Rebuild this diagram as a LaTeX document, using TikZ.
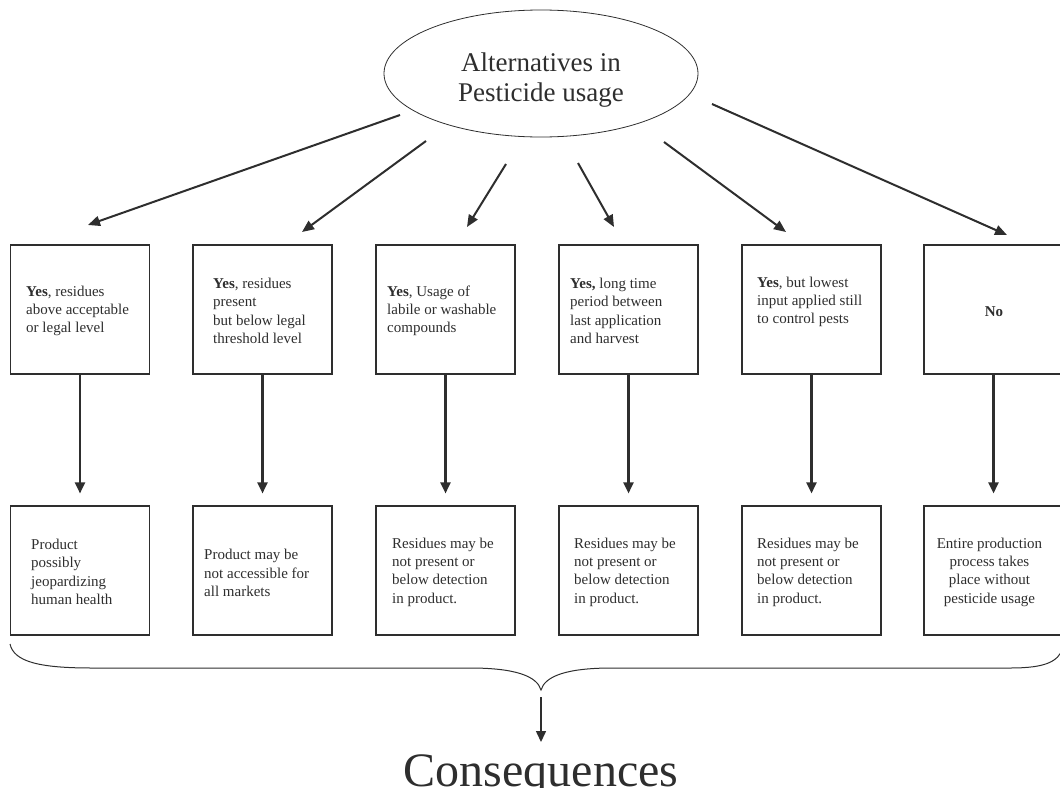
\documentclass[tikz,border=0pt]{standalone}
\usepackage{fontspec}
\setmainfont{Liberation Serif}
\usetikzlibrary{arrows.meta,shapes.geometric,calc}
\definecolor{ink}{HTML}{2E2E2E}
\begin{document}
\begin{tikzpicture}[x=1pt,y=-1pt,
  box/.style={draw=ink, line width=1.1pt, minimum width=139pt, minimum height=129pt, inner sep=0pt},
  txt/.style={anchor=west, align=left, inner sep=0pt, text=ink, font=\fontsize{15}{18.3}\selectfont},
  ctxt/.style={align=center, inner sep=0pt, text=ink, font=\fontsize{15}{18.3}\selectfont},
  darr/.style={draw=ink, line width=2pt, -{Triangle[length=12pt,width=10pt]}},
  varr/.style={draw=ink, line width=2.3pt, -{Triangle[length=11pt,width=10pt]}},
  barr/.style={draw=ink, line width=1.5pt, -{Triangle[length=11pt,width=10pt]}},
  bracepath/.style={draw=ink, line width=1pt}]
\useasboundingbox (0,0) rectangle (1060,787);

% root ellipse and its label
\node[ellipse, draw=ink, line width=0.8pt, minimum width=314pt, minimum height=127pt,
      inner sep=0pt] (root) at (541,73.5) {};
\node[align=center, inner sep=0pt, text=ink, font=\fontsize{27}{30}\selectfont]
      (rootlabel) at (541,80) {Alternatives in\\Pesticide usage};

% alternatives (upper row) and consequences (lower row)
\foreach \i/\x in {1/80,2/262.5,3/445.5,4/628.5,5/811.5,6/993.5}{
  \node[box] (t\i) at (\x,309.5) {};
  \node[box] (b\i) at (\x,570.5) {};
}

\node[txt] (tt1) at (26,311) {\textbf{Yes}, residues\\above acceptable\\or legal level};
\node[txt] (tt2) at (213,311) {\textbf{Yes}, residues\\present\\but below legal\\threshold level};
\node[txt] (tt3) at (387,311) {\textbf{Yes}, Usage of\\labile or washable\\compounds};
\node[txt] (tt4) at (570,311) {\textbf{Yes,} long time\\period between\\last application\\and harvest};
\node[txt] (tt5) at (757,302) {\textbf{Yes}, but lowest\\input applied still\\to control pests};
\node[ctxt] (tt6) at (994,312) {\textbf{No}};

\node[txt] (bt1) at (31,572) {Product\\possibly\\jeopardizing\\human health};
\node[txt] (bt2) at (204,573) {Product may be\\not accessible for\\all markets};
\node[txt] (bt3) at (392,572) {Residues may be\\not present or\\below detection\\in product.};
\node[txt] (bt4) at (574,572) {Residues may be\\not present or\\below detection\\in product.};
\node[txt] (bt5) at (757,572) {Residues may be\\not present or\\below detection\\in product.};
\node[ctxt] (bt6) at (989.5,572) {Entire production\\process takes\\place without\\pesticide usage};

% arrows from the root
\coordinate (s1) at (400,115);  \coordinate (e1) at (88,225);
\coordinate (s2) at (426,141);  \coordinate (e2) at (302,232);
\coordinate (s3) at (506,164);  \coordinate (e3) at (467,227);
\coordinate (s4) at (578,163);  \coordinate (e4) at (614,227);
\coordinate (s5) at (664,142);  \coordinate (e5) at (786,232);
\coordinate (s6) at (712,104);  \coordinate (e6) at (1007,235);
\foreach \i in {1,...,6}{
  \draw[darr] (s\i) -- (e\i);
}

% arrows between rows
\foreach \i in {1,...,6}{
  \draw[varr, shorten >=12pt] (t\i.south) -- (b\i.north);
}

% brace under the lower row
\coordinate (bl) at (10,644);
\coordinate (bt) at (541,690);
\coordinate (br) at (1063,648);
\draw[bracepath] (bl) .. controls (14,662) and (40,668) .. (92,668)
  -- (470,668) .. controls (515,668) and (537,676) .. (bt)
  .. controls (545,676) and (567,668) .. (612,668)
  -- (1010,668) .. controls (1045,668) and (1058,662) .. (br);

% result
\node[inner sep=0pt, text=ink, anchor=base, font=\fontsize{48}{52}\selectfont] (cons) at (541,786) {Consequences};
\coordinate (ct) at (541,742);
\draw[barr, shorten <=7pt] (bt) -- (ct);
\end{tikzpicture}
\end{document}
